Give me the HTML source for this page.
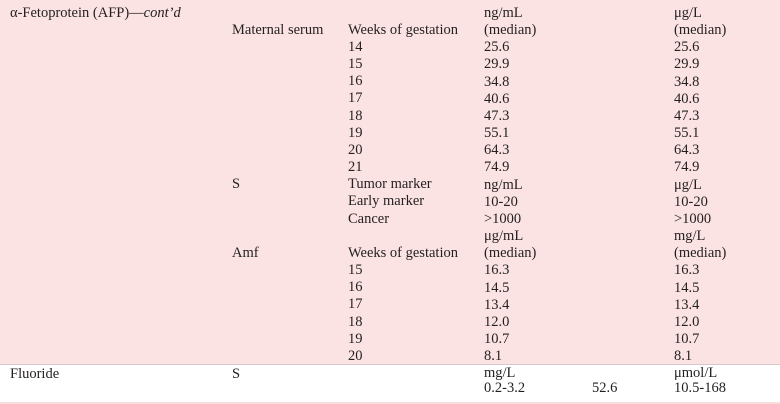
<!DOCTYPE html>
<html><head><style>
body{margin:0;width:780px;height:404px;background:#fff;position:relative;overflow:hidden;font-family:"Liberation Serif",serif;font-size:14.5px;color:#231f20}
.bg{position:absolute;left:0;top:0;width:780px;height:364px;background:#fbe3e3;border-bottom:1px solid #d9c8c8}
.bl{position:absolute;left:0;top:402px;width:780px;height:2px;background:#f6dede}
.t{position:absolute;line-height:17.15px;white-space:nowrap}
</style></head><body>
<div class="bg"></div><div class="bl"></div>
<div class="t" style="left:10px;top:5px">α-Fetoprotein (AFP)—<i>cont’d</i></div>
<div class="t" style="left:232px;top:22px">Maternal serum</div>
<div class="t" style="left:348px;top:22px">Weeks of gestation</div>
<div class="t" style="left:484px;top:5px">ng/mL<br>(median)<br>25.6<br>29.9<br>34.8<br>40.6<br>47.3<br>55.1<br>64.3<br>74.9<br>ng/mL<br>10-20<br>&gt;1000<br>μg/mL<br>(median)<br>16.3<br>14.5<br>13.4<br>12.0<br>10.7<br>8.1</div>
<div class="t" style="left:674px;top:5px">μg/L<br>(median)<br>25.6<br>29.9<br>34.8<br>40.6<br>47.3<br>55.1<br>64.3<br>74.9<br>μg/L<br>10-20<br>&gt;1000<br>mg/L<br>(median)<br>16.3<br>14.5<br>13.4<br>12.0<br>10.7<br>8.1</div>
<div class="t" style="left:348px;top:39px">14<br>15<br>16<br>17<br>18<br>19<br>20<br>21<br>Tumor marker<br>Early marker<br>Cancer<br><br>Weeks of gestation<br>15<br>16<br>17<br>18<br>19<br>20</div>
<div class="t" style="left:232px;top:176px">S</div>
<div class="t" style="left:232px;top:245px">Amf</div>
<div class="t" style="left:10px;top:366px">Fluoride</div>
<div class="t" style="left:232px;top:366px">S</div>
<div class="t" style="left:484px;top:366px;line-height:15px">mg/L<br>0.2-3.2</div>
<div class="t" style="left:592px;top:381px;line-height:15px">52.6</div>
<div class="t" style="left:674px;top:366px;line-height:15px">μmol/L<br>10.5-168</div>
</body></html>
